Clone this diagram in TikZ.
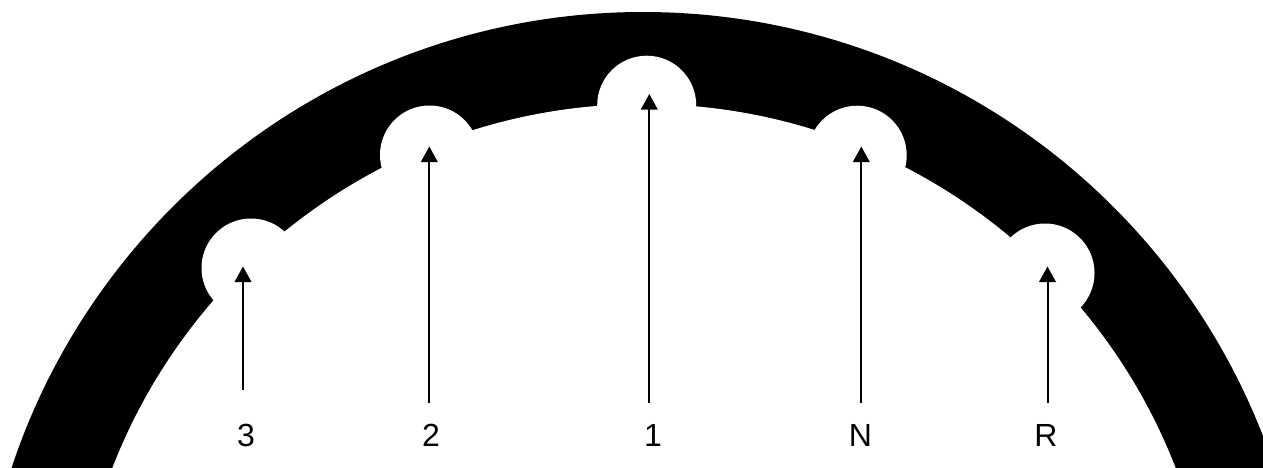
\documentclass[tikz,border=0pt]{standalone}
\usepackage{fontspec}
\setmainfont{Liberation Sans}
\usetikzlibrary{arrows.meta}
\tikzset{
  ring/.style={fill=black},
  cutout/.style={fill=white},
  pointer/.style={draw=black,line width=2pt,-{Triangle[length=15.5pt,width=16.5pt,sep=0pt]}},
  tag/.style={anchor=base,inner sep=0pt,font=\fontsize{32}{38}\selectfont}
}
\begin{document}
\begin{tikzpicture}[x=1pt,y=-1pt]
\useasboundingbox (0,0) rectangle (1263,467);
\fill[white] (0,0) rectangle (1263,467);
\clip (0,0) rectangle (1263,467);
\fill[ring] (643,677) circle[radius=665pt];
\fill[cutout] (644,674) circle[radius=570pt];
\fill[cutout] (646.7,105.2) circle[radius=49.5pt];
\fill[cutout] (429.5,155) circle[radius=49.5pt];
\fill[cutout] (857.2,155.2) circle[radius=49.5pt];
\fill[cutout] (251,268) circle[radius=49.5pt];
\fill[cutout] (1045,273) circle[radius=49.5pt];
\coordinate (a3) at (243,390);   \coordinate (t3) at (243,266.5);
\coordinate (a2) at (429.3,403); \coordinate (t2) at (429.3,146.5);
\coordinate (a1) at (649.3,403); \coordinate (t1) at (649.3,94);
\coordinate (aN) at (861.3,403); \coordinate (tN) at (861.3,146.5);
\coordinate (aR) at (1047.5,403);\coordinate (tR) at (1047.5,266.5);
\draw[pointer] (a3) -- (t3);
\draw[pointer] (a2) -- (t2);
\draw[pointer] (a1) -- (t1);
\draw[pointer] (aN) -- (tN);
\draw[pointer] (aR) -- (tR);
\node[tag] (n3) at (246,446) {3};
\node[tag] (n2) at (431,446) {2};
\node[tag] (n1) at (653,446) {1};
\node[tag] (nN) at (860.5,446) {N};
\node[tag] (nR) at (1046,446) {R};
\end{tikzpicture}
\end{document}
